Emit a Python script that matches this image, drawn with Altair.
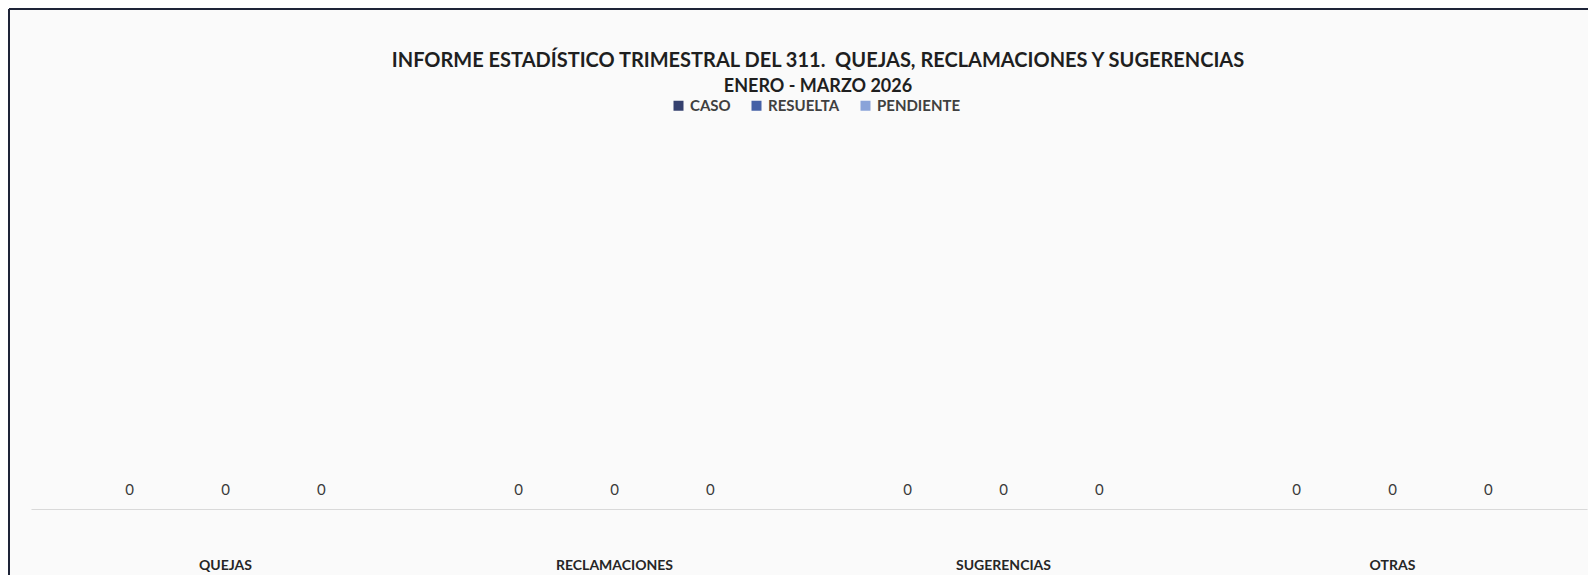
import altair as alt
import pandas as pd

categories = ["QUEJAS", "RECLAMACIONES", "SUGERENCIAS", "OTRAS"]
series = ["CASO", "RESUELTA", "PENDIENTE"]
caso = [0, 0, 0, 0]
resuelta = [0, 0, 0, 0]
pendiente = [0, 0, 0, 0]
colors = ["#34406e", "#4561a6", "#8aa3d9"]
title_lines = [
    "INFORME ESTADÍSTICO TRIMESTRAL DEL 311.\u00a0 QUEJAS, RECLAMACIONES Y SUGERENCIAS",
    "ENERO - MARZO 2026",
]

rows = []
for s, vals in zip(series, [caso, resuelta, pendiente]):
    for c, v in zip(categories, vals):
        rows.append({"categoria": c, "serie": s, "valor": v})
df = pd.DataFrame(rows)

W, H = 1556, 371
PAD = {"left": 23, "right": 1, "top": 130, "bottom": 66}
FONT = "Lato"

x = alt.X(
    "categoria:N",
    sort=categories,
    scale=alt.Scale(paddingInner=0.26, paddingOuter=0.13),
    axis=alt.Axis(
        title=None, labelAngle=0, domainColor="#d9d9d9", domainWidth=1,
        ticks=False, tickSize=0, labelPadding=56, labelBaseline="middle",
        labelFont=FONT, labelFontWeight="bold", labelFontSize=14,
        labelColor="#262626", grid=False,
    ),
)
xoff = alt.XOffset("serie:N", sort=series, scale=alt.Scale(paddingInner=0, paddingOuter=0))
y = alt.Y("valor:Q", scale=alt.Scale(domain=[0, 1]), axis=None)
color = alt.Color(
    "serie:N",
    sort=series,
    scale=alt.Scale(domain=series, range=colors),
    legend=alt.Legend(
        title=None, orient="none", legendX=640, legendY=-40,
        direction="horizontal", symbolType="square", symbolSize=100,
        symbolStrokeWidth=0, labelFont=FONT, labelFontWeight="bold",
        labelFontSize=15, labelColor="#404040", columnPadding=18, labelOffset=4,
    ),
)

bars = alt.Chart(df).mark_bar().encode(x=x, xOffset=xoff, y=y, color=color)
labels = alt.Chart(df).mark_text(
    dy=-19, font=FONT, fontSize=15, color="#3a3a3a", baseline="middle"
).encode(x=x, xOffset=xoff, y=y, text="valor:Q")

t1 = alt.Chart(pd.DataFrame({"t": [title_lines[0]]})).mark_text(
    font=FONT, fontSize=20, fontWeight="bold", color="#1f1f1f", baseline="middle", align="center"
).encode(text="t:N", x=alt.value(787), y=alt.value(-77))
t2 = alt.Chart(pd.DataFrame({"t": [title_lines[1]]})).mark_text(
    font=FONT, fontSize=18, fontWeight="bold", color="#1f1f1f", baseline="middle", align="center"
).encode(text="t:N", x=alt.value(787), y=alt.value(-51))

border = pd.DataFrame({"b": [0]})
top_rule = alt.Chart(border).mark_rule(color="#1e2438", strokeWidth=2).encode(
    x=alt.value(-22), x2=alt.value(W + 2), y=alt.value(-129)
)
left_rule = alt.Chart(border).mark_rule(color="#1e2438", strokeWidth=2).encode(
    x=alt.value(-22), y=alt.value(-129), y2=alt.value(H + 66)
)

chart = (
    alt.layer(bars, labels, t1, t2, top_rule, left_rule)
    .properties(width=W, height=H, padding=PAD, autosize=alt.AutoSizeParams(type="none"),
                background="#fafafa")
    .configure_view(stroke=None)
)

chart.save("out.html", embed_options={"renderer": "svg", "actions": False})
